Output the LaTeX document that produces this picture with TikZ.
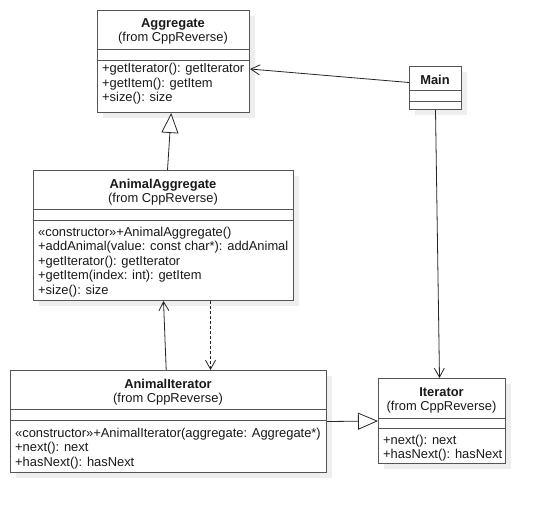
\documentclass[tikz,border=0pt]{standalone}
\usepackage{fontspec}
\setmainfont{Liberation Sans}
\usetikzlibrary{arrows.meta,shadows}
\definecolor{linec}{RGB}{85,85,85}
\definecolor{shadowc}{RGB}{238,238,238}
\definecolor{textc}{RGB}{25,25,25}
\tikzset{
  cls/.style={draw=linec, fill=white, line width=1pt, rectangle, inner sep=0pt, anchor=north west,
    drop shadow={shadow xshift=5pt, shadow yshift=-5pt, fill=shadowc, opacity=1}},
  sepline/.style={draw=linec, line width=1pt},
  ttl/.style={font=\fontsize{12.9}{14.5}\selectfont\bfseries, text=textc, anchor=base, inner sep=0pt},
  frm/.style={font=\fontsize{12.9}{14.5}\selectfont, text=textc, anchor=base, inner sep=0pt},
  mth/.style={font=\fontsize{12.9}{14.5}\selectfont, text=textc, anchor=base west, inner sep=0pt},
  conn/.style={draw=black!85, line width=0.8pt},
  assoc/.style={conn, -{Straight Barb[length=9pt,width=10pt,line width=0.8pt]}},
  gen/.style={conn, -{Triangle[open,length=20pt,width=17pt,line width=0.8pt,fill=white]}},
  dep/.style={assoc, dash pattern=on 3pt off 2pt}
}
\begin{document}
\begin{tikzpicture}[x=1pt,y=-1pt]
\useasboundingbox (0,0) rectangle (545,512);
\fill[white] (0,0) rectangle (545,512);

% Aggregate
\node[cls, minimum width=152pt, minimum height=102pt] (agg) at (97,10) {};
\draw[sepline] (97,49.5) -- (249,49.5);
\draw[sepline] (97,60) -- (249,60);
\node[ttl] (aggT) at (173,27.3) {Aggregate};
\node[frm] (aggF) at (173,41.7) {(from CppReverse)};
\node[mth] (aggM1) at (102,72.5) {+getIterator(): getIterator};
\node[mth] (aggM2) at (102,87) {+getItem(): getItem};
\node[mth] (aggM3) at (102,101.5) {+size(): size};

% Main
\node[cls, minimum width=52pt, minimum height=43pt] (main) at (409,66) {};
\draw[sepline] (409,90) -- (461,90);
\draw[sepline] (409,101) -- (461,101);
\node[ttl] (mainT) at (435,84) {Main};

% AnimalAggregate
\node[cls, minimum width=260pt, minimum height=130pt] (aagg) at (33,170) {};
\draw[sepline] (33,209) -- (293,209);
\draw[sepline] (33,220) -- (293,220);
\node[ttl] (aaggT) at (163,188) {AnimalAggregate};
\node[frm] (aaggF) at (163,202.3) {(from CppReverse)};
\node[mth] (aaggM1) at (38,236) {«constructor»+AnimalAggregate()};
\node[mth] (aaggM2) at (38,250.5) {+addAnimal(value: const char*): addAnimal};
\node[mth] (aaggM3) at (38,265) {+getIterator(): getIterator};
\node[mth] (aaggM4) at (38,279.5) {+getItem(index: int): getItem};
\node[mth] (aaggM5) at (38,294) {+size(): size};

% AnimalIterator
\node[cls, minimum width=316pt, minimum height=102pt] (ait) at (10,370) {};
\draw[sepline] (10,409.3) -- (326,409.3);
\draw[sepline] (10,420.7) -- (326,420.7);
\node[ttl] (aitT) at (168,388) {AnimalIterator};
\node[frm] (aitF) at (168,402.5) {(from CppReverse)};
\node[mth] (aitM1) at (15,437) {«constructor»+AnimalIterator(aggregate: Aggregate*)};
\node[mth] (aitM2) at (15,451.5) {+next(): next};
\node[mth] (aitM3) at (15,466) {+hasNext(): hasNext};

% Iterator
\node[cls, minimum width=127pt, minimum height=85pt] (iter) at (378,378) {};
\draw[sepline] (378,418) -- (505,418);
\draw[sepline] (378,428) -- (505,428);
\node[ttl] (iterT) at (441.5,396) {Iterator};
\node[frm] (iterF) at (441.5,410.5) {(from CppReverse)};
\node[mth] (iterM1) at (383,444) {+next(): next};
\node[mth] (iterM2) at (383,458.5) {+hasNext(): hasNext};

% connectors
\draw[gen] ([xshift=4pt]aagg.north) -- ([xshift=-2.3pt]agg.south);
\draw[assoc] ([yshift=5.5pt]main.west) -- ([yshift=-7.5pt]agg.east);
\draw[assoc] (main.south) -- ([xshift=-2.5pt]iter.north);
\draw[assoc] ([xshift=-2.3pt]ait.north) -- (aagg.south);
\draw[dep] ([xshift=47pt]aagg.south) -- ([xshift=42pt]ait.north);
\draw[gen] (ait.east) -- (iter.west);
\end{tikzpicture}
\end{document}
